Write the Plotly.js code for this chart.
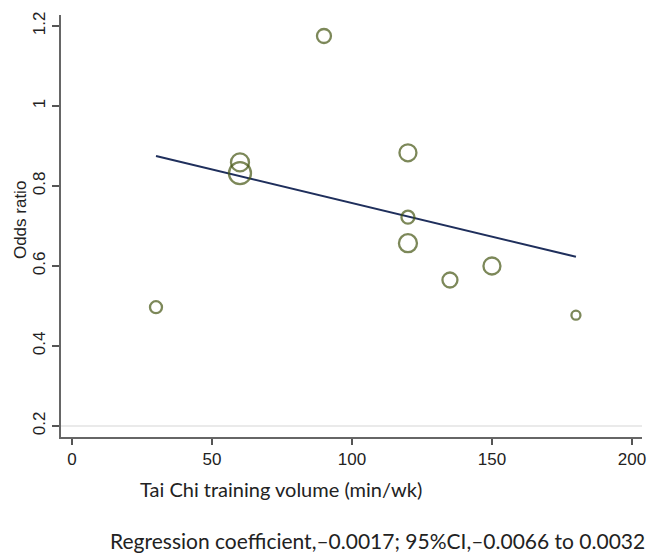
<!DOCTYPE html>
<html>
<head>
<meta charset="utf-8">
<script src="https://cdn.plot.ly/plotly-3.0.1.min.js"></script>
<style>html,body{margin:0;padding:0;background:#fff;}#chart{width:651px;height:555px;}</style>
</head>
<body>
<div id="chart"></div>
<script>
// Study-level data (Tai Chi weekly volume vs odds ratio); marker size ~ study weight
const volume = [30, 60, 60, 90, 120, 120, 120, 135, 150, 180];
const oddsRatio = [0.497, 0.859, 0.832, 1.175, 0.883, 0.722, 0.657, 0.565, 0.600, 0.477];
const weight = [12, 18, 22, 14, 17, 13, 18, 15, 17, 9];

// Meta-regression fitted line endpoints
const fitX = [30, 180];
const fitY = [0.875, 0.623];

const xTicks = [0, 50, 100, 150, 200];
const yTicks = [0.2, 0.4, 0.6, 0.8, 1, 1.2];
const yTickText = ['0.2', '0.4', '0.6', '0.8', '1', '1.2'];
const refY = 0.2;

const xTitle = 'Tai Chi training volume (min/wk)';
const yTitle = 'Odds ratio';
const note = 'Regression coefficient,\u20130.0017; 95%CI,\u20130.0066 to 0.0032';

const traces = [
  {
    x: [-3.93, 203.6], y: [refY, refY], mode: 'lines', type: 'scatter',
    line: {color: '#e3e3e3', width: 1.5}, hoverinfo: 'skip', showlegend: false
  },
  {
    x: fitX, y: fitY, mode: 'lines', type: 'scatter',
    line: {color: '#1f2f5c', width: 2}, showlegend: false
  },
  {
    x: volume, y: oddsRatio, mode: 'markers', type: 'scatter',
    marker: {size: weight, color: 'rgba(0,0,0,0)', line: {color: '#465613', width: 2.3}},
    showlegend: false
  }
];

const layout = {
  width: 651, height: 555,
  margin: {l: 61, r: 9, t: 15, b: 118},
  paper_bgcolor: '#fff', plot_bgcolor: '#fff',
  font: {family: 'Liberation Sans, Arial, sans-serif', size: 17, color: '#222'},
  xaxis: {
    range: [-3.93, 203.6], tickvals: xTicks, ticks: 'outside', ticklen: 6, tickwidth: 1.2,
    tickcolor: '#555', showline: true, linecolor: '#666', linewidth: 2, showgrid: false,
    zeroline: false, tickfont: {size: 17, color: '#222'}
  },
  yaxis: {
    range: [0.1725, 1.2275], tickvals: yTicks, ticktext: yTickText, ticks: 'outside', ticklen: 7,
    tickwidth: 1.2, tickcolor: '#555', showline: true, linecolor: '#666', linewidth: 2,
    showgrid: false, zeroline: false, tickangle: -90, tickfont: {size: 17, color: '#222'}
  },
  annotations: [
    {text: yTitle, xref: 'paper', yref: 'paper', x: -0.0706, y: 0.514, xanchor: 'center', yanchor: 'middle',
     textangle: -90, showarrow: false, font: {size: 17, family: 'Liberation Sans, Arial, sans-serif', color: '#222'}},
    {text: xTitle, xref: 'paper', yref: 'paper', x: 0.379, y: -0.123, xanchor: 'center', yanchor: 'middle',
     showarrow: false, font: {size: 20, family: 'Lato, Open Sans, sans-serif', color: '#222'}},
    {text: note, xref: 'paper', yref: 'paper', x: 0.545, y: -0.246, xanchor: 'center', yanchor: 'middle',
     showarrow: false, font: {size: 21, family: 'Lato, Open Sans, sans-serif', color: '#222'}}
  ]
};

Plotly.newPlot('chart', traces, layout, {displayModeBar: false, staticPlot: true});
</script>
</body>
</html>
